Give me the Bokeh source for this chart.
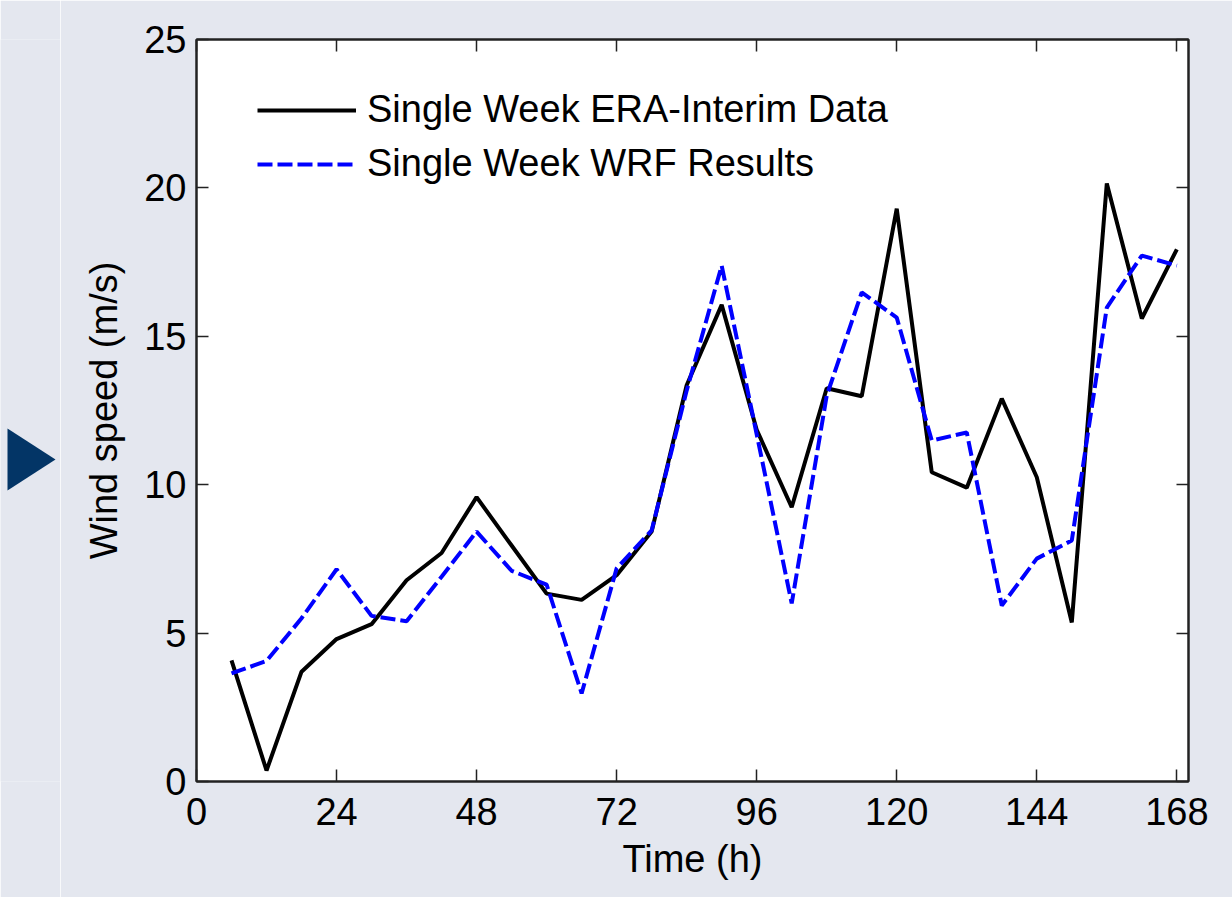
from bokeh.plotting import figure
from bokeh.layouts import row
from bokeh.models import (Range1d, LinearAxis, FixedTicker, CustomJSTickFormatter,
                          Legend, LegendItem)
from bokeh.embed import file_html
from bokeh.resources import INLINE

# ---- data ----
hours = [6, 12, 18, 24, 30, 36, 42, 48, 54, 60, 66, 72, 78, 84,
         90, 96, 102, 108, 114, 120, 126, 132, 138, 144, 150, 156, 162, 168]
era_interim = [4.08, 0.37, 3.70, 4.80, 5.30, 6.78, 7.70, 9.58, 7.95, 6.33,
               6.12, 6.95, 8.42, 13.35, 16.06, 11.85, 9.24, 13.25, 12.98, 19.30,
               10.42, 9.90, 12.90, 10.25, 5.36, 20.15, 15.60, 17.93]
wrf_results = [3.64, 4.06, 5.50, 7.15, 5.58, 5.40, 6.90, 8.42, 7.10, 6.63,
               2.97, 7.18, 8.46, 13.17, 17.38, 11.70, 6.00, 13.00, 16.48, 15.63,
               11.49, 11.76, 5.93, 7.51, 8.12, 15.97, 17.72, 17.38]
x_ticks = [0, 24, 48, 72, 96, 120, 144, 168]
y_ticks = [0, 5, 10, 15, 20, 25]
x_label = "Time (h)"
y_label = "Wind speed (m/s)"
label_era = "Single Week ERA-Interim Data"
label_wrf = "Single Week WRF Results"

# decorative slide marker (triangle), in pixel space of its own strip
marker_x = [7, 7, 55]
marker_y = [428, 490, 459]

FONT = "Liberation Sans"
FS = "38px"
BG = "#E4E7EF"
AX = "#222222"
STRIP = 60
TOP, BOTTOM = 39, 781

# ---- left strip with the triangle marker ----
s = figure(width=STRIP, height=897, output_backend="svg", toolbar_location=None,
           x_range=Range1d(0, STRIP), y_range=Range1d(BOTTOM, TOP),
           min_border_left=0, min_border_right=0,
           min_border_top=TOP, min_border_bottom=897 - BOTTOM,
           x_axis_location=None, y_axis_location=None)
s.grid.visible = False
s.outline_line_color = None
s.background_fill_color = BG
s.border_fill_color = BG
s.patch(marker_x, marker_y, fill_color="#033566", line_color=None)

# ---- main chart ----
p = figure(width=1232 - STRIP, height=897, output_backend="svg", toolbar_location=None,
           x_range=Range1d(0, 170), y_range=Range1d(0, 25),
           min_border_left=196 - STRIP, min_border_right=44,
           min_border_top=TOP, min_border_bottom=897 - BOTTOM)
p.background_fill_color = "white"
p.border_fill_color = BG
p.outline_line_color = AX
p.outline_line_width = 2
p.grid.visible = False

def style_axis(ax, ticks, labels=True):
    ax.ticker = FixedTicker(ticks=ticks)
    ax.axis_line_color = AX
    ax.axis_line_width = 2
    ax.major_tick_in = 12
    ax.major_tick_out = 0
    ax.major_tick_line_color = AX
    ax.major_tick_line_width = 1.5
    ax.minor_tick_line_color = None
    ax.major_label_text_font = FONT
    ax.major_label_text_font_size = FS
    ax.major_label_text_color = "black"
    ax.major_label_standoff = 10
    if not labels:
        ax.formatter = CustomJSTickFormatter(code="return ''")
        ax.major_label_standoff = 0

xa = p.xaxis[0]
ya = p.yaxis[0]
style_axis(xa, x_ticks)
style_axis(ya, y_ticks)
xa.major_label_standoff = 16
xa.axis_label = x_label
ya.axis_label = y_label
for ax in (xa, ya):
    ax.axis_label_text_font = FONT
    ax.axis_label_text_font_size = FS
    ax.axis_label_text_font_style = "normal"
    ax.axis_label_text_color = "black"
xa.axis_label_standoff = 10
ya.axis_label_standoff = 16

top = LinearAxis()
style_axis(top, x_ticks, labels=False)
p.add_layout(top, "above")
right = LinearAxis()
style_axis(right, y_ticks, labels=False)
p.add_layout(right, "right")

r_era = p.line(hours, era_interim, line_color="black", line_width=4)
r_wrf = p.line(hours, wrf_results, line_color="#0000FF", line_width=4, line_dash="15 5")

legend = Legend(items=[LegendItem(label=label_era, renderers=[r_era]),
                       LegendItem(label=label_wrf, renderers=[r_wrf])],
                location=(61, 596), orientation="vertical",
                padding=0, margin=0, spacing=11,
                glyph_width=99, glyph_height=42, label_standoff=11,
                label_text_font=FONT, label_text_font_size=FS, label_text_color="black",
                border_line_alpha=0, background_fill_alpha=0)
p.add_layout(legend, "center")

layout = row(s, p, spacing=0)
html = file_html(layout, INLINE)
html = html.replace("<body>", '<body style="background:%s;margin:0">' % BG, 1)
open("out.html", "w").write(html)
